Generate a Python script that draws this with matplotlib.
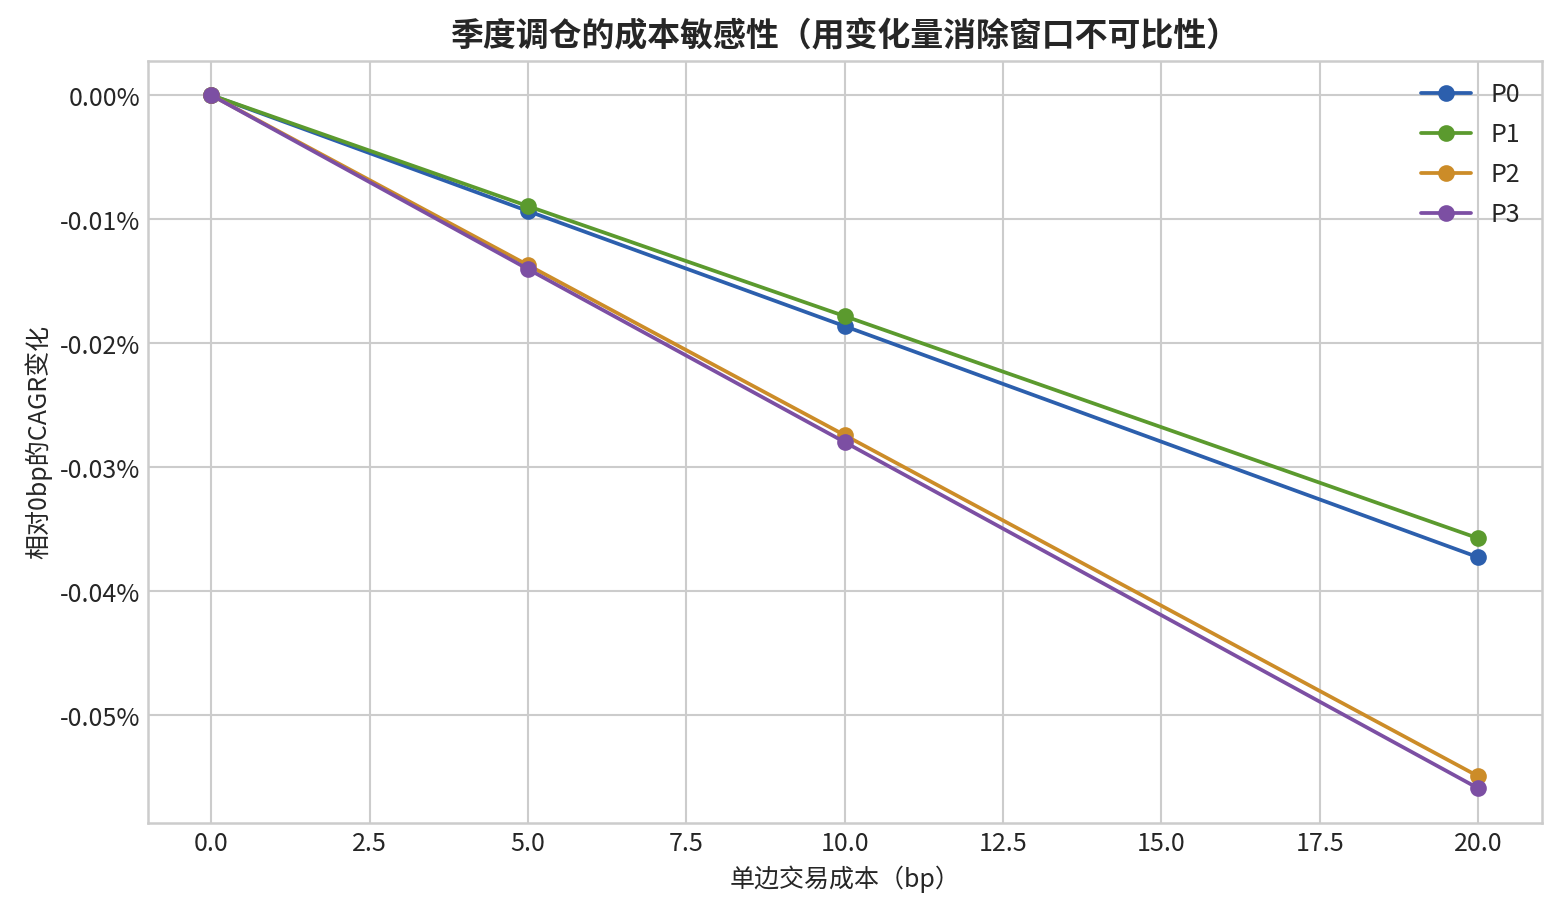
import matplotlib
matplotlib.use('Agg')
import matplotlib.pyplot as plt
from matplotlib.ticker import FuncFormatter

plt.style.use('seaborn-v0_8-whitegrid')
plt.rcParams['font.family'] = ['Noto Sans CJK SC', 'DejaVu Sans']
plt.rcParams['axes.unicode_minus'] = False

# 单边交易成本 (bp)
costs = [0, 5, 10, 20]

# 相对0bp的CAGR变化 (单位: %)
names = ['P0', 'P1', 'P2', 'P3']
p0 = [0.0, -0.00935, -0.01863, -0.03726]
p1 = [0.0, -0.00895, -0.01782, -0.03573]
p2 = [0.0, -0.01371, -0.02742, -0.05492]
p3 = [0.0, -0.01403, -0.02798, -0.05589]
series = [p0, p1, p2, p3]
colors = ['#2c5fad', '#5b9a2e', '#cc8c28', '#7c4fa3']

fig = plt.figure(figsize=(10.41, 6.09), dpi=150)
ax = fig.add_axes([0.0948, 0.0986, 0.8924, 0.8346])

for name, vals, c in zip(names, series, colors):
    ax.plot(costs, vals, marker='o', color=c, lw=1.8, ms=7, label=name)

ax.yaxis.set_major_formatter(FuncFormatter(lambda v, p: f'{v:.2f}%'))
ax.tick_params(labelsize=12, colors='#262626')
for s in ax.spines.values():
    s.set_visible(True)
    s.set_color('#cccccc')
    s.set_linewidth(1.2)
ax.grid(color='#cccccc', lw=1.0)

ax.set_title('季度调仓的成本敏感性（用变化量消除窗口不可比性）', fontsize=15.8,
             fontweight='bold', color='#262626', pad=7)
ax.set_xlabel('单边交易成本（bp）', fontsize=12, color='#262626')
ax.set_ylabel('相对0bp的CAGR变化', fontsize=12, color='#262626')
ax.legend(loc='upper right', fontsize=12, frameon=False, labelspacing=0.56,
          borderaxespad=0.5, borderpad=0.35)

fig.savefig('out.png', dpi=150)
